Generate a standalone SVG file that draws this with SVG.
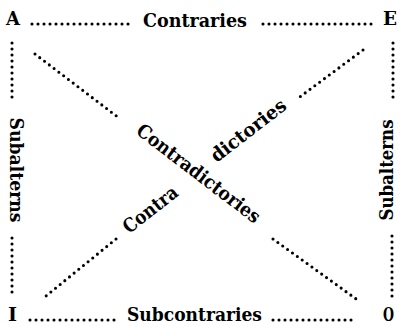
<svg xmlns="http://www.w3.org/2000/svg" width="400" height="326" viewBox="0 0 400 326">
<style>
.dots{fill:none;stroke:#000;stroke-width:3.1;stroke-linecap:round;stroke-dasharray:0 6}
.t{font-family:"DejaVu Serif","Liberation Serif",serif;font-weight:bold;font-size:19px;fill:#000}
.c{dominant-baseline:central;text-anchor:middle}
</style>
<rect width="400" height="326" fill="#fff"/>
<g id="connectors">
<path class="dots" d="M32,24 H130"/>
<path class="dots" d="M263,24 H373"/>
<path class="dots" d="M30,320 H115"/>
<path class="dots" d="M273,320 H357"/>
<path class="dots" d="M12,43 V103"/>
<path class="dots" d="M12,238 V298"/>
<path class="dots" d="M393,43 V103"/>
<path class="dots" d="M392,236 V298"/>
<path class="dots" d="M35,54 L119,118"/>
<path class="dots" d="M363,50 L297,99"/>
<path class="dots" d="M116,239 L46,296"/>
<path class="dots" d="M273,239 L359,301"/>
</g>
<g id="node-A"><text class="t" x="6" y="25" textLength="14" lengthAdjust="spacingAndGlyphs">A</text></g>
<g id="node-E"><text class="t" x="383" y="25" textLength="14" lengthAdjust="spacingAndGlyphs">E</text></g>
<g id="node-I"><text class="t" x="8" y="321" textLength="9" lengthAdjust="spacingAndGlyphs">I</text></g>
<g id="node-O"><text class="t" x="383" y="321" textLength="11" lengthAdjust="spacingAndGlyphs">O</text></g>
<g id="label-contraries"><text class="t" x="143" y="27" textLength="104" lengthAdjust="spacingAndGlyphs">Contraries</text></g>
<g id="label-subcontraries"><text class="t" x="127" y="321" textLength="135" lengthAdjust="spacingAndGlyphs">Subcontraries</text></g>
<g id="label-subalterns-left"><text class="t c" transform="translate(17,170) rotate(90)" textLength="105" lengthAdjust="spacingAndGlyphs">Subalterns</text></g>
<g id="label-subalterns-right"><text class="t c" transform="translate(386,170) rotate(-90)" textLength="101" lengthAdjust="spacingAndGlyphs">Subalterns</text></g>
<g id="label-contradictories"><text class="t c" transform="translate(199,173) rotate(37.3)" textLength="150" lengthAdjust="spacingAndGlyphs">Contradictories</text></g>
<g id="label-contra"><text class="t c" transform="translate(150,209) rotate(-37.8)" textLength="64" lengthAdjust="spacingAndGlyphs">Contra</text></g>
<g id="label-dictories"><text class="t c" transform="translate(248,130) rotate(-37.8)" textLength="90" lengthAdjust="spacingAndGlyphs">dictories</text></g>
</svg>
